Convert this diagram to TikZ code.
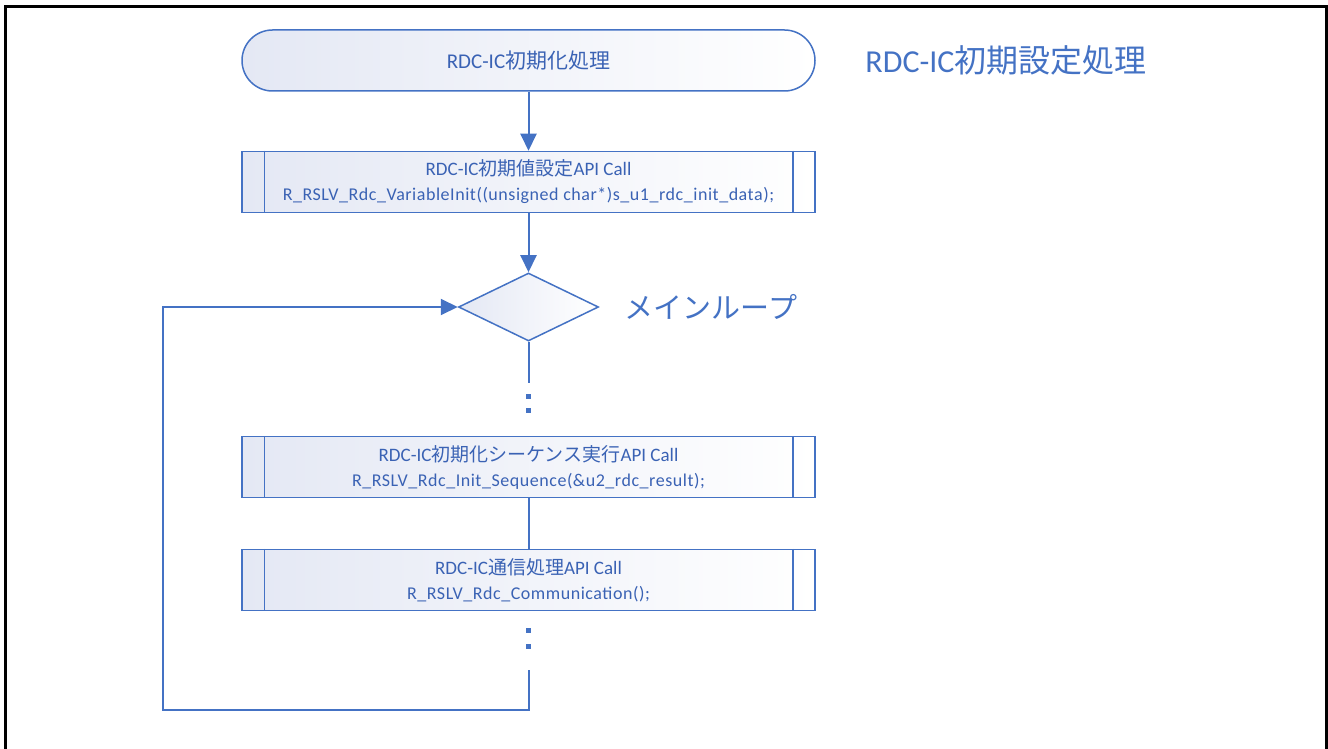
\documentclass[tikz,border=0pt]{standalone}
\usepackage{fontspec}
\setmainfont{Carlito}
\newfontfamily\jp{Noto Sans CJK JP}
\newfontfamily\codefont[LetterSpace=3]{Carlito}
\usetikzlibrary{arrows.meta,shapes.geometric}
\definecolor{flowblue}{HTML}{4472C4}
\definecolor{flowtext}{HTML}{3A62B4}
\definecolor{flowfill}{HTML}{E4E8F4}
\def\sidebars(#1){\draw[flowblue, line width=1.5] ([xshift=23]#1.north west) -- ([xshift=23]#1.south west) ([xshift=-23]#1.north east) -- ([xshift=-23]#1.south east);}
\tikzset{
	flowline/.style={draw=flowblue, line width=2},
	flowarrow/.style={flowline, -{Triangle[length=17,width=16]}},
	termbox/.style={draw=flowblue, line width=1.5, left color=flowfill, right color=white, rounded corners=30.5, minimum width=573, minimum height=61, inner sep=0, text=flowtext, font=\fontsize{21}{24}\selectfont},
	callbox/.style={draw=flowblue, line width=1.5, left color=flowfill, right color=white, minimum width=573, minimum height=61, inner sep=0, text=flowtext, align=center, font=\fontsize{19}{25}\selectfont},
	decision/.style={diamond, draw=flowblue, line width=1.5, left color=flowfill, right color=white, minimum width=140, minimum height=68, inner sep=0},
	bigtext/.style={text=flowblue, font=\fontsize{32}{36}\selectfont}
}
\begin{document}
\begin{tikzpicture}[x=1pt, y=-1pt]
	%%%%% START %%%%%
	\useasboundingbox (0,0) rectangle (1328,749);
	\draw[line width=3] (5,7) rectangle (1326.5,770);
	
	\node[termbox] (init) at (528.5,60.5) {RDC-IC{\jp 初期化処理}};
	\node[bigtext] (title) at (1006,60) {RDC-IC{\jp 初期設定処理}};
	
	\node[callbox] (varinit) at (528.5,182) {RDC-IC{\jp 初期値設定}API Call\\ {\codefont\fontsize{18}{20}\selectfont R\_RSLV\_Rdc\_VariableInit((unsigned char*)s\_u1\_rdc\_init\_data);}};
	\sidebars(varinit)
	
	\node[decision] (mainloop) at (528.5,307) {};
	\node[bigtext, font=\jp\fontsize{29}{32}\selectfont] (looplabel) at (711,307) {メインループ};
	\coordinate (dotstop) at (528.5,383);
	
	\node[callbox] (initseq) at (528.5,467) {RDC-IC{\jp 初期化シーケンス実行}API Call\\ {\codefont\fontsize{18}{20}\selectfont R\_RSLV\_Rdc\_Init\_Sequence(\&u2\_rdc\_result);}};
	\sidebars(initseq)
	
	\node[callbox] (comm) at (528.5,580) {RDC-IC{\jp 通信処理}API Call\\ {\codefont\fontsize{18}{20}\selectfont R\_RSLV\_Rdc\_Communication();}};
	\sidebars(comm)
	
	\coordinate (loopstart) at (528.5,670);
	\coordinate (loopturn) at (528.5,710);
	\coordinate (loopleft) at (163,710);
	
	% connectors
	\draw[flowarrow] (init) -- (varinit);
	\draw[flowarrow] (varinit) -- (mainloop);
	\draw[flowline] (mainloop) -- (dotstop);
	\draw[flowline] (initseq) -- (comm);
	\draw[flowarrow] (loopstart) -- (loopturn) -- (loopleft) |- (mainloop.west);
	
	% vertical dots
	\foreach \y in {396,410,630,646}
		\fill[flowblue] (526,\y-2.5) rectangle (531,\y+2.5);
	%%%%% END %%%%%
\end{tikzpicture}
\end{document}
